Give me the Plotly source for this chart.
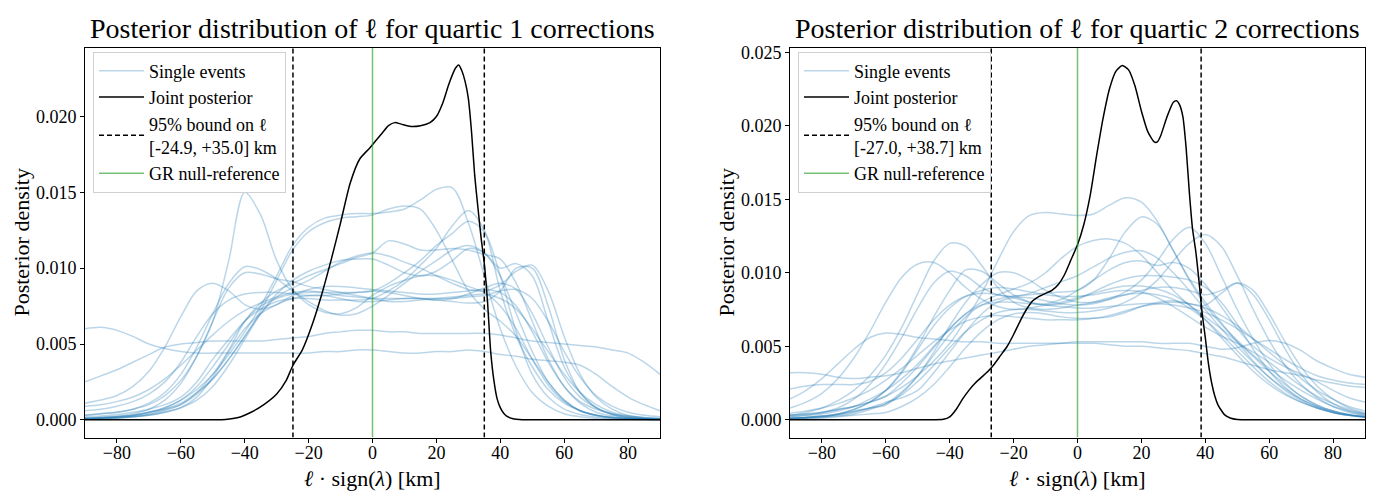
import plotly.graph_objects as go

# ---------------- data ----------------
X_GRID = [-90, -85, -80, -75, -70, -65, -60, -55, -50, -45, -40, -35, -30, -25, -20, -15, -10, -5,
          0, 5, 10, 15, 20, 25, 30, 35, 40, 45, 50, 55, 60, 65, 70, 75, 80, 85, 90]

# single-event posteriors, quartic 1 (units of 1e-3)
Q1_EVENTS = [
    [6.0, 6.1, 5.9, 5.5, 5.0, 4.7, 4.5, 4.4, 4.4, 4.4, 4.4, 4.4, 4.4, 4.4, 4.4, 4.5, 4.5, 4.6, 4.6, 4.5, 4.4, 4.4, 4.5, 4.5, 4.6, 4.5, 4.3, 4.2, 4.0, 3.9, 3.8, 3.6, 3.0, 2.2, 1.5, 1.0, 0.6],
    [2.5, 2.9, 3.3, 3.8, 4.3, 4.8, 5.0, 5.1, 5.2, 5.2, 5.2, 5.2, 5.3, 5.4, 5.5, 5.7, 5.8, 5.9, 5.9, 5.8, 5.8, 5.7, 5.7, 5.7, 5.7, 5.7, 5.6, 5.4, 5.2, 5.1, 5.0, 4.9, 4.8, 4.6, 4.4, 3.8, 3.0],
    [0.3, 0.4, 0.5, 0.7, 1.0, 1.6, 2.6, 4.2, 6.5, 10.5, 15.0, 13.5, 10.5, 8.6, 7.6, 7.1, 7.0, 7.4, 8.2, 8.8, 9.2, 9.5, 9.5, 9.2, 8.8, 8.4, 7.5, 6.0, 4.0, 2.3, 1.2, 0.6, 0.3, 0.15, 0.08, 0.05, 0.03],
    [0.1, 0.1, 0.2, 0.3, 0.5, 0.8, 1.3, 2.0, 3.0, 4.3, 5.8, 7.5, 9.5, 11.5, 12.7, 13.3, 13.5, 13.6, 13.6, 13.7, 13.9, 14.5, 15.2, 15.3, 13.0, 9.5, 6.0, 3.5, 1.8, 0.9, 0.4, 0.2, 0.1, 0.05, 0.03, 0.02, 0.01],
    [0.05, 0.1, 0.15, 0.25, 0.4, 0.7, 1.1, 1.8, 2.7, 4.0, 5.5, 7.2, 9.2, 11.2, 12.4, 13.0, 13.3, 13.4, 13.5, 13.9, 14.1, 13.9, 12.5, 10.5, 8.5, 7.3, 6.5, 5.5, 4.0, 2.5, 1.3, 0.6, 0.3, 0.15, 0.08, 0.04, 0.02],
    [0.2, 0.25, 0.35, 0.5, 0.7, 1.0, 1.5, 2.5, 4.0, 5.3, 6.5, 7.3, 7.8, 8.0, 8.0, 7.9, 7.9, 7.9, 8.0, 8.5, 9.2, 10.2, 11.3, 12.8, 13.8, 12.5, 8.5, 5.5, 3.5, 2.0, 1.1, 0.6, 0.3, 0.15, 0.08, 0.04, 0.02],
    [0.1, 0.15, 0.2, 0.3, 0.5, 0.8, 1.3, 2.2, 3.5, 5.0, 6.5, 7.5, 8.0, 8.3, 8.4, 8.4, 8.4, 8.4, 8.5, 9.0, 9.7, 10.5, 11.5, 12.3, 13.1, 12.4, 9.5, 5.8, 3.0, 1.5, 0.7, 0.35, 0.18, 0.09, 0.05, 0.03, 0.02],
    [0.1, 0.15, 0.2, 0.3, 0.5, 0.7, 1.0, 1.8, 3.0, 4.6, 6.5, 7.7, 8.5, 9.0, 9.5, 9.9, 10.3, 10.7, 11.0, 11.8, 11.6, 11.2, 11.2, 11.3, 11.2, 10.9, 10.6, 9.0, 6.5, 4.0, 2.2, 1.1, 0.5, 0.25, 0.12, 0.06, 0.03],
    [0.05, 0.08, 0.12, 0.2, 0.3, 0.5, 0.8, 1.3, 2.2, 3.6, 5.3, 7.0, 8.3, 9.2, 9.8, 10.2, 10.5, 10.6, 10.6, 10.2, 9.7, 9.5, 9.8, 10.5, 11.3, 11.0, 10.0, 10.3, 9.5, 6.5, 3.5, 1.8, 0.8, 0.35, 0.15, 0.07, 0.03],
    [1.1, 1.3, 1.6, 2.2, 3.2, 4.8, 6.8, 8.5, 9.0, 8.5, 7.6, 7.3, 7.6, 8.2, 8.6, 8.8, 8.8, 8.7, 8.6, 8.5, 8.4, 8.3, 8.3, 8.4, 8.5, 8.6, 8.4, 7.5, 5.8, 3.8, 2.2, 1.2, 0.7, 0.4, 0.25, 0.15, 0.1],
    [0.3, 0.4, 0.5, 0.7, 1.1, 1.8, 3.0, 4.8, 7.0, 9.0, 10.1, 9.9, 9.3, 8.5, 7.8, 7.2, 6.9, 7.0, 7.5, 8.2, 9.0, 9.8, 10.5, 11.2, 11.5, 11.0, 9.5, 7.0, 4.5, 2.5, 1.3, 0.6, 0.3, 0.15, 0.08, 0.04, 0.02],
    [0.1, 0.15, 0.25, 0.4, 0.7, 1.3, 2.4, 4.2, 6.5, 8.7, 9.7, 9.6, 9.3, 9.1, 8.8, 8.6, 8.4, 8.2, 8.0, 7.8, 7.8, 7.9, 8.0, 8.1, 8.2, 8.3, 8.0, 7.3, 6.0, 4.5, 3.0, 1.8, 1.0, 0.5, 0.25, 0.12, 0.06],
    [0.9, 1.0, 1.2, 1.5, 2.0, 2.7, 3.6, 4.6, 5.6, 6.5, 7.2, 7.7, 8.1, 8.4, 8.5, 8.4, 8.2, 8.1, 8.0, 8.0, 8.0, 8.0, 8.0, 8.0, 8.1, 8.2, 8.5, 8.6, 8.0, 6.5, 4.5, 2.8, 1.6, 0.9, 0.5, 0.3, 0.2],
    [0.05, 0.08, 0.12, 0.2, 0.35, 0.6, 1.0, 1.7, 2.7, 4.0, 5.5, 7.0, 8.1, 8.7, 9.2, 9.8, 10.4, 10.8, 11.0, 10.8, 10.4, 10.0, 9.5, 9.0, 8.6, 8.5, 8.9, 9.8, 10.2, 8.5, 5.5, 3.0, 1.5, 0.7, 0.3, 0.15, 0.07],
    [0.05, 0.08, 0.12, 0.2, 0.3, 0.5, 0.8, 1.5, 2.8, 4.5, 6.0, 7.0, 7.6, 8.0, 8.2, 8.2, 8.0, 7.8, 7.8, 7.9, 8.0, 8.0, 7.9, 7.8, 7.7, 7.8, 8.5, 10.0, 10.0, 7.5, 4.0, 1.8, 0.8, 0.35, 0.15, 0.07, 0.03],
    [0.6, 0.7, 0.9, 1.2, 1.7, 2.5, 3.8, 5.5, 7.0, 7.9, 8.3, 8.4, 8.4, 8.3, 8.2, 8.2, 8.3, 8.4, 8.5, 8.4, 8.2, 8.0, 7.9, 8.0, 8.3, 8.7, 9.0, 8.6, 7.0, 4.8, 2.8, 1.5, 0.8, 0.4, 0.2, 0.1, 0.05],
]

# single-event posteriors, quartic 2 (units of 1e-3)
Q2_EVENTS = [
    [1.4, 2.0, 2.8, 3.8, 4.8, 5.6, 5.9, 5.8, 5.6, 5.5, 5.4, 5.3, 5.3, 5.2, 5.2, 5.2, 5.2, 5.2, 5.2, 5.2, 5.1, 5.0, 5.0, 4.9, 4.8, 4.7, 4.5, 4.3, 4.0, 3.7, 3.4, 3.2, 3.0, 2.7, 2.5, 2.3, 2.2],
    [3.2, 3.2, 3.1, 2.9, 2.8, 2.9, 3.0, 3.2, 3.5, 3.8, 4.0, 4.2, 4.4, 4.6, 4.8, 5.0, 5.1, 5.2, 5.3, 5.3, 5.3, 5.3, 5.3, 5.2, 5.2, 5.2, 5.0, 4.8, 4.9, 5.2, 5.4, 5.2, 4.7, 4.0, 3.5, 3.1, 2.9],
    [0.3, 0.4, 0.5, 0.7, 0.9, 1.2, 1.6, 2.2, 3.0, 4.0, 5.2, 6.8, 8.6, 10.8, 12.8, 13.9, 14.1, 14.0, 13.9, 14.0, 14.6, 15.1, 14.8, 13.5, 11.5, 9.5, 7.8, 6.5, 5.4, 4.4, 3.5, 2.7, 2.0, 1.4, 0.9, 0.6, 0.4],
    [0.3, 0.5, 0.8, 1.3, 2.0, 3.0, 4.4, 6.3, 8.6, 10.8, 12.0, 11.8, 10.5, 9.0, 8.0, 7.6, 7.5, 7.6, 7.8, 8.0, 8.3, 8.5, 8.6, 8.5, 8.2, 7.6, 6.8, 5.8, 4.7, 3.6, 2.6, 1.8, 1.2, 0.8, 0.5, 0.3, 0.2],
    [0.8, 1.2, 1.8, 2.8, 4.2, 6.0, 8.0, 9.7, 10.6, 10.7, 10.0, 9.0, 8.2, 7.7, 7.5, 7.6, 7.8, 8.0, 8.3, 8.6, 8.9, 9.1, 9.1, 8.9, 8.5, 7.8, 6.8, 5.6, 4.4, 3.3, 2.4, 1.7, 1.2, 0.8, 0.5, 0.3, 0.2],
    [0.1, 0.15, 0.25, 0.4, 0.7, 1.2, 2.0, 3.3, 5.0, 7.0, 8.8, 10.2, 10.1, 9.3, 8.5, 8.0, 7.8, 7.9, 8.2, 8.7, 9.2, 9.6, 9.8, 9.8, 9.7, 9.5, 9.0, 8.0, 6.5, 4.8, 3.3, 2.2, 1.4, 0.9, 0.5, 0.3, 0.15],
    [0.2, 0.3, 0.5, 0.8, 1.4, 2.4, 3.8, 5.6, 7.6, 9.3, 10.1, 9.8, 9.0, 8.5, 8.4, 8.6, 9.0, 9.4, 9.8, 10.4, 11.0, 11.4, 11.5, 11.0, 10.0, 8.8, 7.5, 6.2, 5.0, 3.9, 2.9, 2.1, 1.4, 0.9, 0.6, 0.35, 0.2],
    [0.1, 0.15, 0.2, 0.35, 0.55, 0.8, 1.0, 1.8, 3.0, 4.6, 6.4, 8.0, 9.2, 10.0, 10.0, 9.5, 8.8, 8.3, 8.0, 8.0, 8.2, 8.5, 8.8, 9.0, 9.0, 8.8, 8.5, 8.8, 9.3, 8.5, 6.8, 4.8, 3.1, 1.9, 1.1, 0.6, 0.3],
    [0.2, 0.3, 0.4, 0.6, 0.9, 1.4, 2.0, 2.8, 3.8, 5.0, 6.2, 7.2, 8.0, 8.5, 8.9, 9.3, 10.0, 11.0, 11.8, 12.2, 12.3, 12.0, 11.2, 10.0, 8.8, 7.8, 7.0, 6.2, 5.3, 4.3, 3.3, 2.4, 1.6, 1.0, 0.6, 0.35, 0.2],
    [0.1, 0.15, 0.25, 0.4, 0.6, 0.8, 1.1, 1.9, 3.0, 4.4, 5.8, 7.0, 7.8, 8.2, 8.4, 8.5, 8.6, 8.7, 8.8, 9.5, 11.0, 12.8, 13.8, 13.3, 11.5, 9.6, 8.0, 6.6, 5.3, 4.0, 2.9, 2.0, 1.3, 0.8, 0.5, 0.3, 0.15],
    [0.1, 0.15, 0.2, 0.3, 0.5, 0.8, 1.2, 1.5, 2.0, 3.2, 4.6, 6.0, 7.2, 8.0, 8.3, 8.3, 8.1, 7.9, 7.8, 7.9, 8.2, 8.7, 9.5, 10.8, 12.3, 13.1, 12.0, 9.8, 7.5, 5.5, 3.8, 2.5, 1.6, 1.0, 0.6, 0.35, 0.2],
    [0.05, 0.1, 0.15, 0.25, 0.4, 0.7, 1.1, 1.7, 2.6, 3.7, 4.9, 6.0, 6.8, 7.3, 7.5, 7.5, 7.4, 7.3, 7.3, 7.4, 7.6, 8.0, 8.6, 9.5, 10.8, 12.0, 12.6, 11.8, 9.8, 7.5, 5.4, 3.7, 2.4, 1.5, 0.9, 0.5, 0.3],
    [0.05, 0.08, 0.12, 0.2, 0.3, 0.4, 0.5, 0.9, 1.5, 2.4, 3.6, 4.9, 6.0, 6.8, 7.2, 7.3, 7.2, 7.0, 6.9, 6.9, 7.0, 7.3, 7.7, 8.0, 8.1, 7.9, 7.8, 8.6, 9.3, 8.8, 7.2, 5.3, 3.6, 2.3, 1.4, 0.8, 0.45],
    [0.3, 0.4, 0.5, 0.7, 0.9, 1.2, 1.6, 2.5, 3.6, 4.9, 6.2, 7.2, 7.8, 8.0, 8.0, 7.9, 7.9, 8.2, 8.8, 9.5, 10.2, 10.7, 10.8, 10.5, 10.7, 10.3, 9.2, 7.7, 6.2, 5.0, 4.2, 3.6, 3.1, 2.6, 2.0, 1.5, 1.2],
    [2.1, 2.3, 2.4, 2.4, 2.4, 2.6, 3.2, 4.2, 5.5, 6.8, 7.8, 8.4, 8.6, 8.5, 8.3, 8.0, 7.8, 7.7, 7.6, 7.6, 7.7, 7.8, 7.9, 7.9, 7.8, 7.6, 7.3, 6.8, 6.2, 5.5, 4.8, 4.1, 3.5, 3.0, 2.7, 2.5, 2.4],
    [0.45, 0.6, 0.8, 1.1, 1.5, 2.0, 2.7, 3.5, 4.4, 5.3, 6.1, 6.7, 7.0, 7.1, 7.0, 6.9, 6.8, 6.8, 6.8, 6.9, 7.1, 7.4, 7.7, 7.9, 8.0, 7.9, 7.6, 7.1, 6.4, 5.5, 4.6, 3.7, 2.8, 2.0, 1.4, 0.9, 0.6],
    [0.1, 0.15, 0.25, 0.4, 0.7, 1.2, 2.0, 3.2, 4.8, 6.4, 7.6, 8.4, 8.8, 9.0, 8.9, 8.7, 8.5, 8.4, 8.4, 8.5, 8.7, 8.8, 8.7, 8.3, 7.7, 7.0, 6.3, 5.7, 5.2, 4.6, 3.9, 3.1, 2.3, 1.6, 1.1, 0.7, 0.4],
]

# joint posteriors (units of 1e-3)
Q1_JOINT_X = [-90, -60, -50, -46, -42, -38, -34, -30, -27, -24.9, -22, -19, -16, -13, -10, -7, -4, -1, 1, 3, 5, 7,
              9, 12, 15, 18, 20, 22, 24, 26, 27, 28, 29, 30, 31, 32, 33, 34, 35, 36, 37, 38, 39, 40, 41, 42, 44, 47,
              50, 90]
Q1_JOINT_Y = [0, 0, 0, 0.02, 0.15, 0.5, 1.0, 1.7, 2.6, 3.6, 4.6, 6.2, 8.2, 10.5, 13.0, 15.6, 17.2, 17.9, 18.4, 18.9,
              19.4, 19.6, 19.5, 19.35, 19.4, 19.6, 20.0, 20.9, 22.2, 23.2, 23.4, 23.0, 22.3, 21.2, 19.0, 16.1, 14.0,
              12.0, 10.3, 7.8, 4.5, 2.6, 1.4, 0.8, 0.45, 0.25, 0.07, 0.01, 0, 0]

Q2_JOINT_X = [-90, -45, -42, -40, -38, -36, -34, -32, -30, -28, -26, -24, -22, -20, -18, -16, -14, -12, -10, -8, -6,
              -4, -2, 0, 2, 4, 6, 8, 10, 12, 14, 16, 18, 20, 22, 24, 25, 26, 28, 30, 31, 32, 33, 34, 35, 36, 37, 38,
              39, 40, 41, 42, 43, 44, 45, 46, 48, 50, 55, 90]
Q2_JOINT_Y = [0, 0, 0.03, 0.2, 0.7, 1.4, 2.0, 2.5, 2.9, 3.3, 3.8, 4.4, 5.0, 5.8, 6.7, 7.5, 8.1, 8.4, 8.6, 8.8, 9.2,
              9.9, 10.9, 11.9, 13.3, 15.3, 18.0, 20.5, 22.5, 23.7, 24.1, 23.8, 22.7, 21.0, 19.6, 18.9, 18.9, 19.3,
              20.6, 21.6, 21.7, 21.4, 20.6, 18.5, 15.5, 13.0, 11.5, 9.5, 7.3, 5.6, 3.8, 2.5, 1.6, 1.0, 0.65, 0.35,
              0.1, 0.02, 0, 0]

Q1_BOUNDS = [-24.9, 35.0]
Q2_BOUNDS = [-27.0, 38.7]
TITLES = ["Posterior distribution of ℓ for quartic 1 corrections",
          "Posterior distribution of ℓ for quartic 2 corrections"]
X_TICKS = [-80, -60, -40, -20, 0, 20, 40, 60, 80]
Q1_Y_TICKS = [0.000, 0.005, 0.010, 0.015, 0.020]
Q2_Y_TICKS = [0.000, 0.005, 0.010, 0.015, 0.020, 0.025]
Q1_Y_RANGE = [-0.00117, 0.02455]
Q2_Y_RANGE = [-0.00121, 0.02532]

# ---------------- style ----------------
FONT = "Liberation Serif"
EVENT_COLOR = "rgba(31,119,180,0.3)"
GREEN = "rgba(44,160,44,0.65)"
W, H = 1378, 492
DOMAINS_X = [[85 / W, 660 / W], [790 / W, 1365 / W]]
DOMAIN_Y = [1 - 437 / H, 1 - 43 / H]

fig = go.Figure()

panels = [
    (Q1_EVENTS, Q1_JOINT_X, Q1_JOINT_Y, Q1_BOUNDS, Q1_Y_RANGE, Q1_Y_TICKS, "x", "y", "legend"),
    (Q2_EVENTS, Q2_JOINT_X, Q2_JOINT_Y, Q2_BOUNDS, Q2_Y_RANGE, Q2_Y_TICKS, "x2", "y2", "legend2"),
]

for events, jx, jy, bounds, yr, yt, xa, ya, leg in panels:
    for i, ev in enumerate(events):
        fig.add_trace(go.Scatter(
            x=X_GRID, y=[v * 1e-3 for v in ev], mode="lines",
            line=dict(color=EVENT_COLOR, width=1.5, shape="spline", smoothing=0.9),
            name="Single events", showlegend=(i == 0), legend=leg,
            xaxis=xa, yaxis=ya, hoverinfo="skip"))
    fig.add_trace(go.Scatter(
        x=jx, y=[v * 1e-3 for v in jy], mode="lines",
        line=dict(color="black", width=1.5, shape="spline", smoothing=0.6),
        name="Joint posterior", legend=leg, xaxis=xa, yaxis=ya))
    bound_label = "95% bound on ℓ<br>[{:.1f}, +{:.1f}] km".format(bounds[0], bounds[1])
    fig.add_trace(go.Scatter(
        x=[bounds[0], bounds[0], None, bounds[1], bounds[1]],
        y=[yr[0], yr[1], None, yr[0], yr[1]], mode="lines",
        line=dict(color="black", width=1.5, dash="5px,3px"),
        name=bound_label, legend=leg, xaxis=xa, yaxis=ya))
    fig.add_trace(go.Scatter(
        x=[0, 0], y=[yr[0], yr[1]], mode="lines",
        line=dict(color=GREEN, width=1.5),
        name="GR null-reference", legend=leg, xaxis=xa, yaxis=ya))

axis_common = dict(showline=True, linecolor="black", linewidth=1, mirror=True, ticks="outside",
                   ticklen=4, tickwidth=1, tickcolor="black", showgrid=False, zeroline=False,
                   tickfont=dict(family=FONT, size=18, color="black"))

legend_common = dict(xanchor="left", yanchor="top", bgcolor="rgba(255,255,255,0.8)",
                     bordercolor="#d0d0d0", borderwidth=1, itemwidth=45,
                     font=dict(family=FONT, size=18, color="black"), tracegroupgap=0)

fig.update_layout(
    width=W, height=H, margin=dict(l=0, r=0, t=0, b=0),
    plot_bgcolor="white", paper_bgcolor="white",
    font=dict(family=FONT, color="black"),
    xaxis=dict(domain=DOMAINS_X[0], range=[-90, 90], tickvals=X_TICKS, anchor="y",
               ticklabelstandoff=-5, **axis_common),
    yaxis=dict(domain=DOMAIN_Y, range=Q1_Y_RANGE, tickvals=Q1_Y_TICKS, tickformat=".3f", anchor="x",
               **axis_common),
    xaxis2=dict(domain=DOMAINS_X[1], range=[-90, 90], tickvals=X_TICKS, anchor="y2",
                ticklabelstandoff=-5, **axis_common),
    yaxis2=dict(domain=DOMAIN_Y, range=Q2_Y_RANGE, tickvals=Q2_Y_TICKS, tickformat=".3f", anchor="x2",
                **axis_common),
    legend=dict(x=93 / W, y=1 - 47 / H, **legend_common),
    legend2=dict(x=798 / W, y=1 - 47 / H, **legend_common),
    showlegend=True,
)

annotations = []
for k, dom in enumerate(DOMAINS_X):
    cx = (dom[0] + dom[1]) / 2
    annotations.append(dict(text=TITLES[k], x=cx, y=1 - 24 / H, xref="paper", yref="paper",
                            xanchor="center", yanchor="middle", showarrow=False,
                            font=dict(family=FONT, size=28, color="black")))
    annotations.append(dict(text="<i>ℓ</i> · sign(<i>λ</i>) [km]", x=cx, y=1 - 478 / H,
                            xref="paper", yref="paper", xanchor="center", yanchor="middle",
                            showarrow=False, font=dict(family=FONT, size=22, color="black")))
annotations.append(dict(text="Posterior density", x=22 / W, y=1 - 240 / H, xref="paper", yref="paper",
                        xanchor="center", yanchor="middle", textangle=-90, showarrow=False,
                        font=dict(family=FONT, size=22, color="black")))
annotations.append(dict(text="Posterior density", x=727 / W, y=1 - 240 / H, xref="paper", yref="paper",
                        xanchor="center", yanchor="middle", textangle=-90, showarrow=False,
                        font=dict(family=FONT, size=22, color="black")))
fig.update_layout(annotations=annotations)

fig.write_html("out.html", config={"displayModeBar": False},
               post_script="document.body.style.margin='0';document.body.style.overflow='hidden';")
